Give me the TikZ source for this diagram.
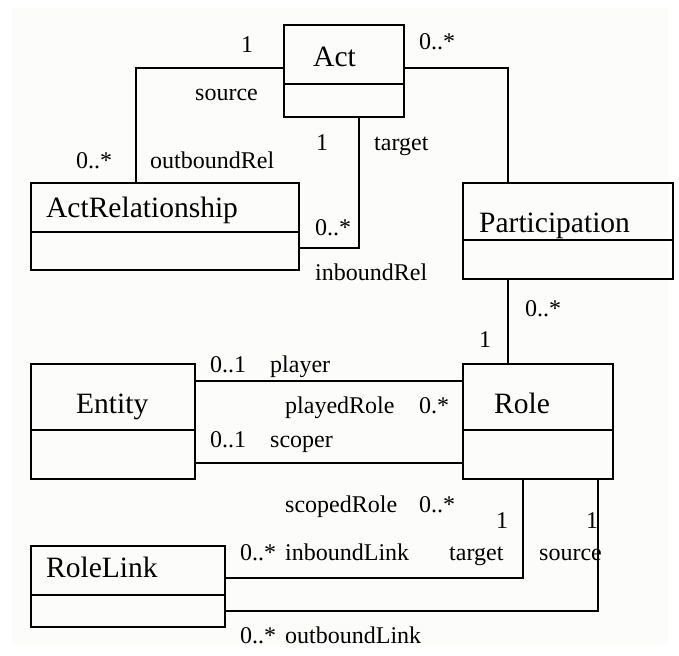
\documentclass[tikz,border=0pt]{standalone}
\usepackage{fontspec}
\setmainfont{Liberation Serif}
\definecolor{paper}{RGB}{252,252,251}
\tikzset{
    classbox/.style={draw, line width=1.1pt, rectangle, inner sep=0pt},
    classname/.style={anchor=base west, inner sep=0pt, font=\fontsize{29.5}{33}\selectfont},
    rolename/.style={anchor=base west, inner sep=0pt, font=\fontsize{24}{28}\selectfont},
    assoc/.style={line width=1.1pt}
}
% a class: name, centre x, centre y, width, height, divider y
\newcommand{\umlclass}[6]{%
    \node[classbox, minimum width=#4pt, minimum height=#5pt] (#1) at (#2,#3) {};
    \draw[line width=1.1pt] (#1.west |- 0,#6) -- (#1.east |- 0,#6);
}
\begin{document}
\begin{tikzpicture}[x=1pt, y=-1pt]
    \useasboundingbox (0,0) rectangle (679,655);
    \fill[paper] (12,8) rectangle (668,645);

    \umlclass{act}{344}{71}{120}{92}{84}
    \node[classname] (actname) at (313,67) {Act};

    \umlclass{actrel}{165}{226.5}{268}{87}{232}
    \node[classname] (actrelname) at (46,217) {ActRelationship};

    \umlclass{part}{568}{231}{210}{96}{240}
    \node[classname] (partname) at (479,232) {Participation};

    \umlclass{entity}{113}{421.5}{164}{115}{430}
    \node[classname] (entityname) at (76,413) {Entity};

    \umlclass{role}{538}{421.5}{150}{115}{430}
    \node[classname] (rolename) at (494,413) {Role};

    \umlclass{rolelink}{128}{586.5}{194}{81}{595}
    \node[classname] (rolelinkname) at (46,577) {RoleLink};

    % Act -- ActRelationship (source)
    \draw[assoc] (act.west |- 0,68) -| (actrel.north -| 136,0);
    \node[rolename] (srcmult) at (241,53) {1};
    \node[rolename] (srcrole) at (195,101) {source};
    \node[rolename] (outmult) at (76,168) {0..*};
    \node[rolename] (outrole) at (150,168) {outboundRel};

    % Act -- ActRelationship (target)
    \draw[assoc] (act.south -| 359,0) |- (actrel.east |- 0,248);
    \node[rolename] (tgtmult) at (316,150) {1};
    \node[rolename] (tgtrole) at (374,150) {target};
    \node[rolename] (inmult) at (315,235) {0..*};
    \node[rolename] (inrole) at (315,280) {inboundRel};

    % Act -- Participation
    \draw[assoc] (act.east |- 0,68) -| (part.north -| 508,0);
    \node[rolename] (actpartmult) at (419,50) {0..*};

    % Participation -- Role
    \draw[assoc] (part.south -| 508,0) -- (role.north -| 508,0);
    \node[rolename] (partmult) at (525,316) {0..*};
    \node[rolename] (rolepartmult) at (479,347) {1};

    % Entity -- Role (player)
    \draw[assoc] (entity.east |- 0,381) -- (role.west |- 0,381);
    \node[rolename] (playermult) at (210,372) {0..1};
    \node[rolename] (playerrole) at (270,372) {player};
    \node[rolename] (playedrole) at (285,413) {playedRole};
    \node[rolename] (playedmult) at (419,413) {0.*};

    % Entity -- Role (scoper)
    \draw[assoc] (entity.east |- 0,463) -- (role.west |- 0,463);
    \node[rolename] (scopermult) at (210,447) {0..1};
    \node[rolename] (scoperrole) at (270,447) {scoper};
    \node[rolename] (scopedrole) at (285,512) {scopedRole};
    \node[rolename] (scopedmult) at (419,512) {0..*};

    % RoleLink -- Role (target)
    \draw[assoc] (rolelink.east |- 0,578) -| (role.south -| 523,0);
    \node[rolename] (inlinkmult) at (240,560) {0..*};
    \node[rolename] (inlinkrole) at (285,560) {inboundLink};
    \node[rolename] (ltgtmult) at (496,528) {1};
    \node[rolename] (ltgtrole) at (449,560) {target};

    % RoleLink -- Role (source)
    \draw[assoc] (rolelink.east |- 0,611) -| (role.south -| 598,0);
    \node[rolename] (outlinkmult) at (240,643) {0..*};
    \node[rolename] (outlinkrole) at (285,643) {outboundLink};
    \node[rolename] (lsrcmult) at (586,528) {1};
    \node[rolename] (lsrcrole) at (539,560) {source};
\end{tikzpicture}
\end{document}
